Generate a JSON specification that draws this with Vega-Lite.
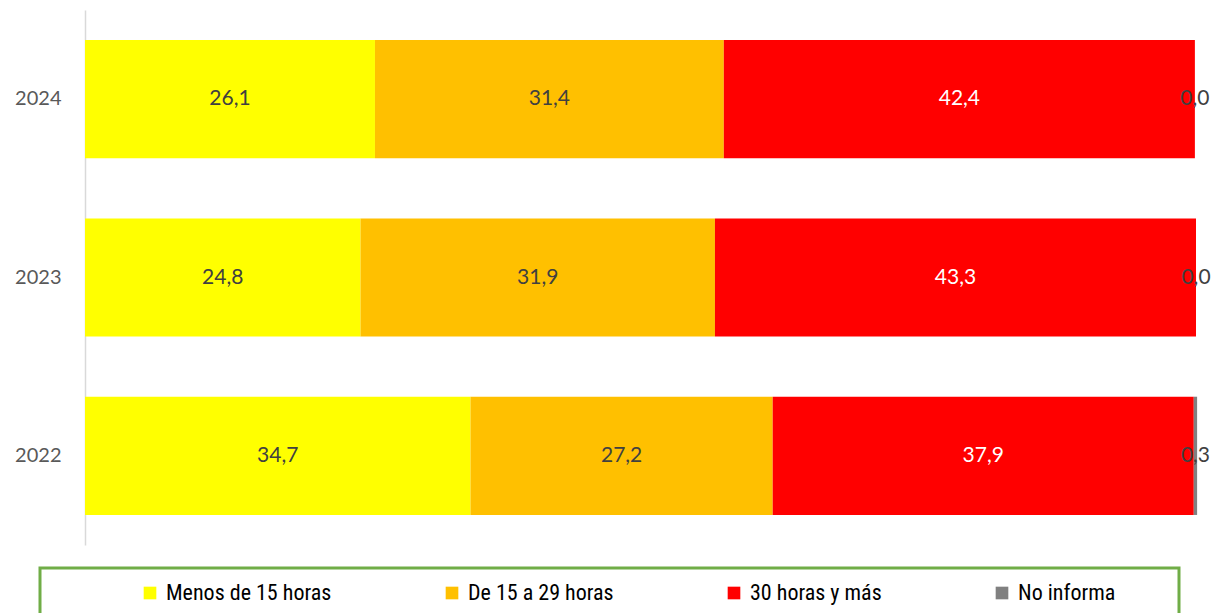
{
  "$schema": "https://vega.github.io/schema/vega-lite/v6.json",
  "width": 1111,
  "height": 535,
  "autosize": {"type": "none"},
  "padding": {"left": 85, "top": 10, "right": 24, "bottom": 68},
  "background": "white",
  "config": {
    "view": {"stroke": null},
    "legend": {"strokeWidth": 3}
  },
  "data": {
    "values": [
      {"anio": "2024", "cat": "Menos de 15 horas", "k": 1, "v": 26.1},
      {"anio": "2024", "cat": "De 15 a 29 horas", "k": 2, "v": 31.4},
      {"anio": "2024", "cat": "30 horas y más", "k": 3, "v": 42.4},
      {"anio": "2024", "cat": "No informa", "k": 4, "v": 0.0},
      {"anio": "2023", "cat": "Menos de 15 horas", "k": 1, "v": 24.8},
      {"anio": "2023", "cat": "De 15 a 29 horas", "k": 2, "v": 31.9},
      {"anio": "2023", "cat": "30 horas y más", "k": 3, "v": 43.3},
      {"anio": "2023", "cat": "No informa", "k": 4, "v": 0.0},
      {"anio": "2022", "cat": "Menos de 15 horas", "k": 1, "v": 34.7},
      {"anio": "2022", "cat": "De 15 a 29 horas", "k": 2, "v": 27.2},
      {"anio": "2022", "cat": "30 horas y más", "k": 3, "v": 37.9},
      {"anio": "2022", "cat": "No informa", "k": 4, "v": 0.3}
    ]
  },
  "encoding": {
    "y": {
      "field": "anio",
      "type": "nominal",
      "sort": ["2024", "2023", "2022"],
      "scale": {"paddingInner": 0.337, "paddingOuter": 0.1685},
      "axis": {
        "title": null,
        "ticks": false,
        "labelPadding": 24,
        "labelFont": "Lato",
        "labelFontSize": 20,
        "labelColor": "#595959",
        "domainColor": "#D9D9D9",
        "domainWidth": 1.5
      }
    }
  },
  "layer": [
    {
      "mark": {"type": "bar"},
      "encoding": {
        "x": {
          "field": "v",
          "type": "quantitative",
          "stack": "zero",
          "scale": {"domain": [0, 100], "nice": false},
          "axis": null
        },
        "color": {
          "field": "cat",
          "type": "nominal",
          "sort": null,
          "scale": {
            "domain": ["Menos de 15 horas", "De 15 a 29 horas", "30 horas y más", "No informa"],
            "range": ["#FFFF00", "#FFC000", "#FF0000", "#808080"]
          },
          "legend": {
            "title": "\u00a0",
            "titleOrient": "right",
            "titlePadding": 50,
            "titleFontSize": 8,
            "orient": "none",
            "direction": "horizontal",
            "legendX": -45,
            "legendY": 558,
            "strokeColor": "#70AD47",
            "fillColor": "white",
            "padding": 14,
            "symbolType": "square",
            "symbolSize": 160,
            "symbolStrokeWidth": 0,
            "symbolOpacity": 1,
            "symbolOffset": 85,
            "labelOffset": 5,
            "labelFont": "Roboto Condensed, Roboto, sans-serif",
            "labelFontSize": 22,
            "labelColor": "#000000",
            "labelLimit": 400,
            "columnPadding": 24
          }
        },
        "order": {"field": "k"}
      }
    },
    {
      "mark": {"type": "text", "font": "Lato", "fontSize": 21, "baseline": "middle", "align": "center",
        "text": {"expr": "replace(format(datum.v, '.1f'), '.', ',')"}},
      "encoding": {
        "x": {"field": "v", "type": "quantitative", "stack": "zero", "bandPosition": 0.5},
        "detail": {"field": "cat"},
        "order": {"field": "k"},
        "fill": {
          "condition": {"test": "datum.cat === '30 horas y más'", "value": "#FFFFFF"},
          "value": "#404040"
        }
      }
    }
  ]
}
